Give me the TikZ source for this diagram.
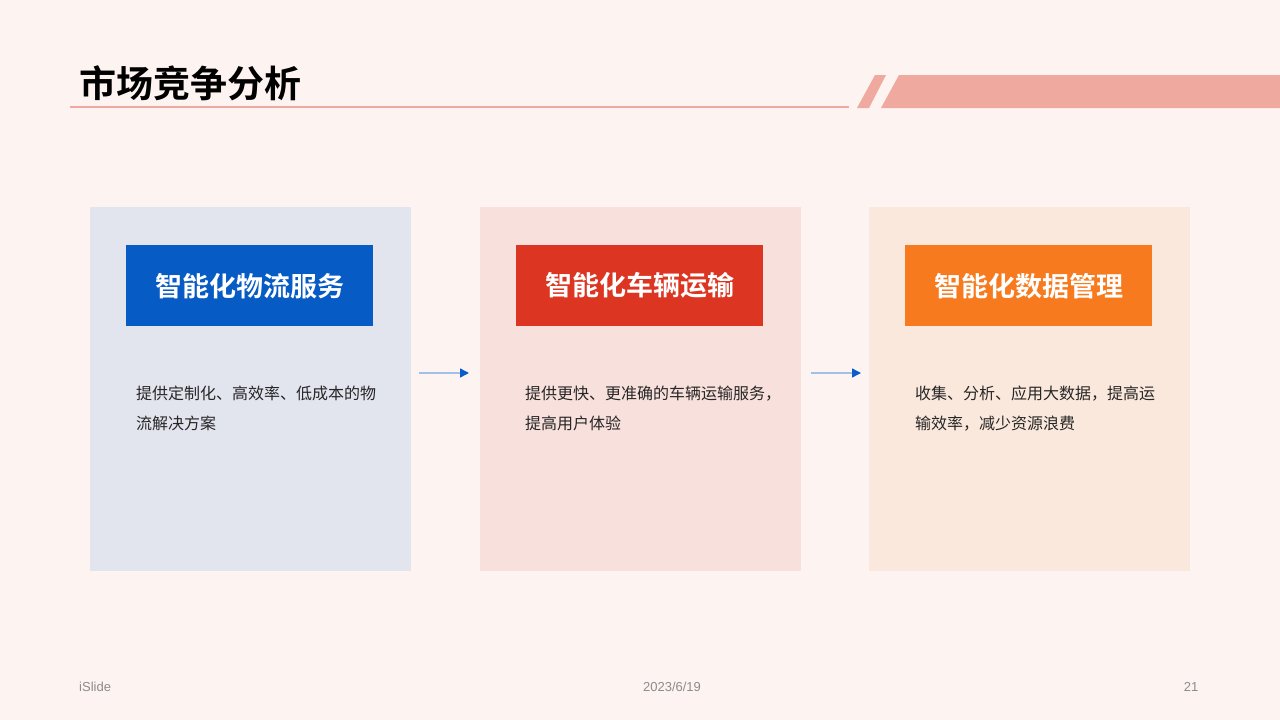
\documentclass[tikz,border=0pt]{standalone}
\usepackage{fontspec}
\setmainfont{Liberation Sans}
\newfontfamily\cjk{Noto Sans CJK SC}
\newfontfamily\cjkb{Noto Sans CJK SC Bold}
\usetikzlibrary{arrows.meta}
\definecolor{bg}{HTML}{FDF3F1}
\definecolor{rule}{HTML}{F0A9A0}
\definecolor{stripe}{HTML}{EFA99F}
\definecolor{boxA}{HTML}{E3E5EE}
\definecolor{boxB}{HTML}{F8E0DC}
\definecolor{boxC}{HTML}{FBE8DC}
\definecolor{hdA}{HTML}{075BC4}
\definecolor{hdB}{HTML}{DC3522}
\definecolor{hdC}{HTML}{F77B1E}
\definecolor{bodytxt}{HTML}{262626}
\definecolor{foot}{HTML}{8C8C8C}
\definecolor{arrline}{HTML}{A3C0E8}
\definecolor{arrhead}{HTML}{0B5CC8}
\tikzset{
  card/.style={draw=none, minimum width=321pt, minimum height=364pt, inner sep=0, anchor=north west},
  header/.style={draw=none, minimum width=247pt, minimum height=81pt, inner sep=0, anchor=north west, text=white, font=\cjkb\fontsize{27}{32}\selectfont},
  bodytext/.style={anchor=north west, inner sep=0, align=left, text=bodytxt, font=\cjk\fontsize{16}{30}\selectfont},
  footer/.style={inner sep=0, text=foot, font=\fontsize{13}{15}\selectfont},
  flow/.style={draw=arrline, line width=1.5pt, -{Triangle[length=9pt,width=9pt,color=arrhead]}}
}
\begin{document}
\begin{tikzpicture}[x=1pt,y=-1pt]
\fill[bg] (0,0) rectangle (1280,720);
\useasboundingbox (0,0) rectangle (1280,720);
% title
\node[anchor=west, inner sep=0, font=\cjkb\fontsize{37}{40}\selectfont] (title) at (79,83) {市场竞争分析};
\draw[rule, line width=2pt] (70,107) -- (849,107);
\fill[stripe] (857,108) -- (875,75) -- (886,75) -- (869,108) -- cycle;
\fill[stripe] (881,108) -- (899,75) -- (1280,75) -- (1280,108) -- cycle;
% cards
\node[card, fill=boxA] (c1) at (90,207) {};
\node[card, fill=boxB] (c2) at (480,207) {};
\node[card, fill=boxC] (c3) at (869,207) {};
% headers
\node[header, fill=hdA] (h1) at (126,245) {智能化物流服务};
\node[header, fill=hdB] (h2) at (516,245) {智能化车辆运输};
\node[header, fill=hdC] (h3) at (905,245) {智能化数据管理};
% body
\node[bodytext] (t1) at (136,386) {提供定制化、高效率、低成本的物\\流解决方案};
\node[bodytext] (t2) at (525,386) {提供更快、更准确的车辆运输服务，\\提高用户体验};
\node[bodytext] (t3) at (915,386) {收集、分析、应用大数据，提高运\\输效率，减少资源浪费};
% arrows
\coordinate (a1s) at (419,373);
\coordinate (a1e) at (469,373);
\coordinate (a2s) at (811,373);
\coordinate (a2e) at (861,373);
\draw[flow] (a1s) -- (a1e);
\draw[flow] (a2s) -- (a2e);
% footer
\node[footer, anchor=west] (f1) at (79,687) {iSlide};
\node[footer] (f2) at (672,687) {2023/6/19};
\node[footer] (f3) at (1191,687) {21};
\end{tikzpicture}
\end{document}
